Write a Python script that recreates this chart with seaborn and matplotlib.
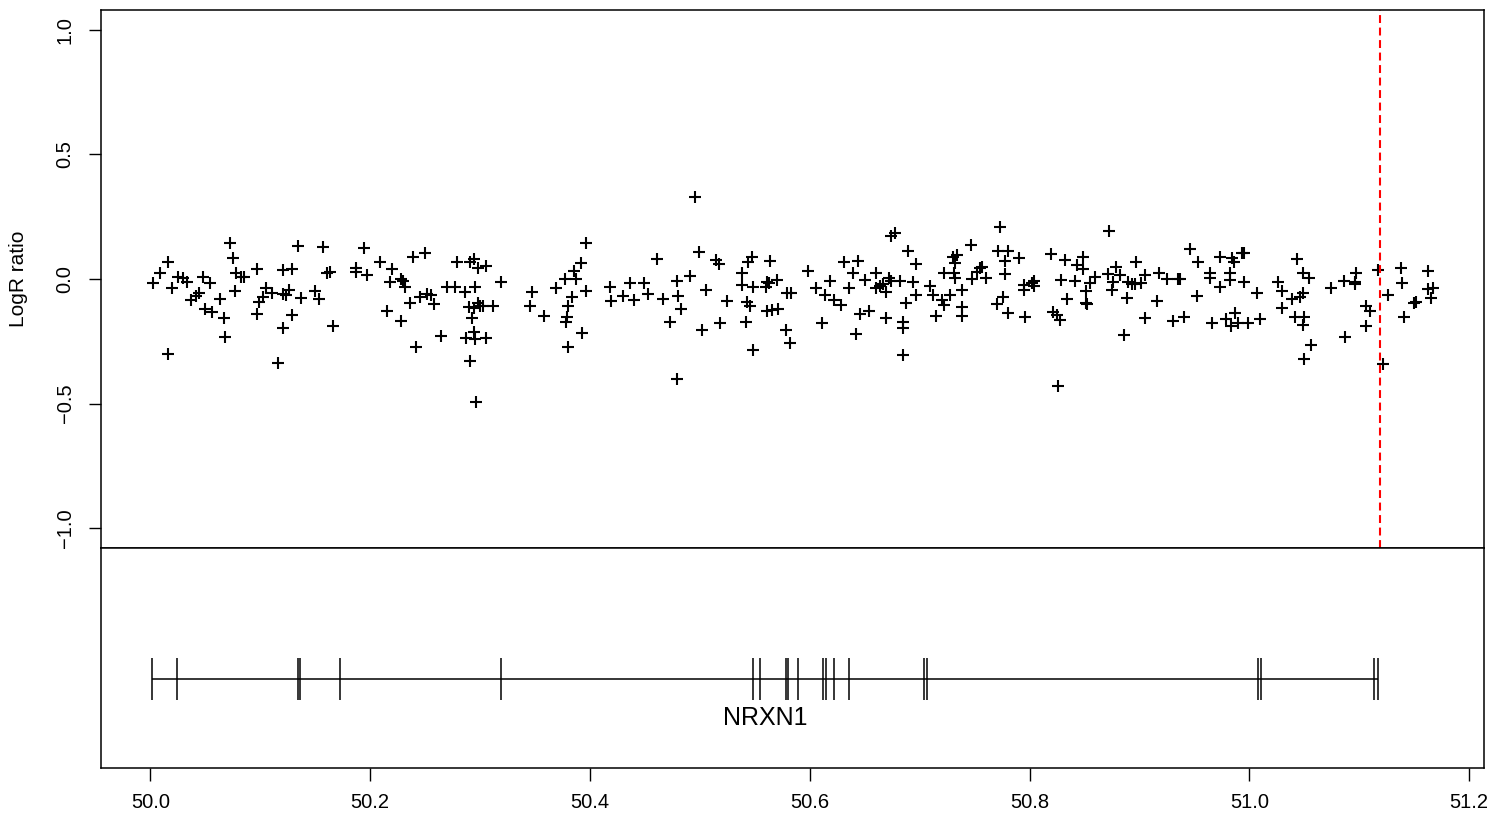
import matplotlib
matplotlib.use('Agg')
import matplotlib.pyplot as plt
import seaborn as sns
import pandas as pd

# posições (Mb) e LogR ratio de cada sonda
posicao = [
    50.002, 50.009, 50.016, 50.016, 50.020, 50.025, 50.030, 50.033, 50.037, 50.041,
    50.044, 50.048, 50.050, 50.054, 50.056, 50.063, 50.067, 50.068, 50.072, 50.075,
    50.078, 50.077, 50.082, 50.085, 50.097, 50.097, 50.099, 50.102, 50.105, 50.111,
    50.116, 50.121, 50.121, 50.121, 50.123, 50.126, 50.129, 50.129, 50.134, 50.137,
    50.150, 50.153, 50.157, 50.161, 50.163, 50.166, 50.187, 50.187, 50.194, 50.197,
    50.209, 50.215, 50.218, 50.220, 50.228, 50.228, 50.230, 50.232, 50.236, 50.239,
    50.242, 50.245, 50.250, 50.252, 50.255, 50.258, 50.264, 50.270, 50.277, 50.279,
    50.286, 50.287, 50.290, 50.291, 50.294, 50.291, 50.293, 50.294, 50.294, 50.295,
    50.295, 50.296, 50.298, 50.298, 50.300, 50.303, 50.305, 50.305, 50.312, 50.319,
    50.345, 50.347, 50.358, 50.369, 50.377, 50.378, 50.379, 50.380, 50.380, 50.384,
    50.385, 50.387, 50.392, 50.393, 50.396, 50.396, 50.418, 50.419, 50.430, 50.436,
    50.440, 50.449, 50.453, 50.461, 50.466, 50.473, 50.479, 50.480, 50.479, 50.483,
    50.491, 50.496, 50.499, 50.502, 50.506, 50.515, 50.517, 50.518, 50.525, 50.538,
    50.538, 50.542, 50.543, 50.546, 50.544, 50.547, 50.548, 50.548, 50.560, 50.561,
    50.563, 50.561, 50.566, 50.571, 50.564, 50.570, 50.578, 50.579, 50.583, 50.582,
    50.598, 50.606, 50.611, 50.614, 50.618, 50.622, 50.628, 50.631, 50.636, 50.639,
    50.642, 50.644, 50.646, 50.650, 50.654, 50.660, 50.660, 50.664, 50.667, 50.669,
    50.669, 50.672, 50.674, 50.674, 50.678, 50.682, 50.685, 50.685, 50.685, 50.688,
    50.689, 50.694, 50.697, 50.697, 50.709, 50.712, 50.715, 50.720, 50.722, 50.722,
    50.728, 50.730, 50.734, 50.732, 50.731, 50.732, 50.739, 50.739, 50.739, 50.747,
    50.748, 50.752, 50.755, 50.757, 50.760, 50.770, 50.771, 50.773, 50.776, 50.778,
    50.778, 50.780, 50.780, 50.790, 50.795, 50.795, 50.796, 50.802, 50.804, 50.804,
    50.820, 50.821, 50.825, 50.828, 50.826, 50.829, 50.832, 50.834, 50.841, 50.843,
    50.849, 50.849, 50.851, 50.851, 50.852, 50.855, 50.860, 50.872, 50.871, 50.875,
    50.876, 50.879, 50.882, 50.886, 50.889, 50.890, 50.893, 50.896, 50.901, 50.897,
    50.905, 50.905, 50.916, 50.918, 50.925, 50.931, 50.935, 50.937, 50.941, 50.946,
    50.952, 50.953, 50.964, 50.964, 50.966, 50.973, 50.973, 50.979, 50.982, 50.982,
    50.983, 50.984, 50.986, 50.987, 50.990, 50.993, 50.995, 50.995, 50.999, 51.007,
    51.010, 51.026, 51.030, 51.030, 51.039, 51.043, 51.042, 51.046, 51.049, 51.054,
    51.049, 51.050, 51.049, 51.056, 51.050, 51.074, 51.087, 51.086, 51.096, 51.097,
    51.096, 51.106, 51.110, 51.106, 51.117, 51.122, 51.126, 51.138, 51.139, 51.141,
    51.150, 51.152, 51.163, 51.163, 51.167, 51.165,
]
logr = [
    -0.017, 0.025, 0.070, -0.300, -0.036, 0.007, 0.003, -0.013, -0.084, -0.068,
    -0.055, 0.009, -0.122, -0.015, -0.131, -0.080, -0.155, -0.232, 0.146, 0.086,
    0.023, -0.047, 0.009, 0.007, 0.040, -0.141, -0.091, -0.071, -0.037, -0.057,
    -0.339, 0.036, -0.198, -0.060, -0.064, -0.044, 0.040, -0.145, 0.133, -0.078,
    -0.047, -0.080, 0.130, 0.023, 0.027, -0.190, 0.043, 0.027, 0.126, 0.016,
    0.070, -0.127, -0.011, 0.040, -0.001, -0.169, -0.008, -0.031, -0.095, 0.090,
    -0.272, -0.074, 0.103, -0.060, -0.064, -0.100, -0.228, -0.031, -0.031, 0.070,
    -0.051, -0.238, -0.111, 0.070, 0.079, -0.328, -0.158, -0.212, -0.118, -0.242,
    -0.031, -0.493, 0.045, -0.095, -0.108, -0.108, 0.053, -0.235, -0.108, -0.011,
    -0.107, -0.051, -0.147, -0.037, -0.001, -0.171, -0.151, -0.107, -0.272, -0.071,
    0.033, -0.001, 0.063, -0.218, 0.143, -0.047, -0.033, -0.087, -0.068, -0.017,
    -0.084, -0.015, -0.060, 0.080, -0.082, -0.171, -0.007, -0.068, -0.403, -0.120,
    0.012, 0.331, 0.110, -0.205, -0.044, 0.076, 0.060, -0.175, -0.087, 0.023,
    -0.024, -0.171, -0.091, -0.107, 0.070, 0.087, -0.285, -0.031, -0.031, -0.011,
    -0.015, -0.127, -0.124, -0.120, 0.072, -0.004, -0.205, -0.057, -0.055, -0.258,
    0.032, -0.037, -0.175, -0.064, -0.007, -0.084, -0.104, 0.070, -0.037, 0.025,
    -0.221, 0.072, -0.141, -0.004, -0.127, 0.025, -0.035, -0.027, -0.020, -0.158,
    -0.051, 0.003, -0.007, 0.173, 0.186, -0.007, -0.171, -0.198, -0.305, -0.095,
    0.112, -0.011, 0.059, -0.064, -0.028, -0.064, -0.149, -0.084, -0.104, 0.025,
    -0.064, 0.090, 0.096, 0.063, 0.023, 0.003, -0.044, -0.114, -0.149, 0.137,
    -0.001, 0.029, 0.043, 0.047, 0.003, -0.100, 0.112, 0.210, -0.074, 0.020,
    0.073, 0.112, -0.135, 0.083, -0.024, -0.044, -0.154, -0.015, -0.007, -0.028,
    0.099, -0.131, -0.145, -0.165, -0.428, -0.004, 0.076, -0.082, -0.007, 0.056,
    0.090, 0.039, -0.047, -0.098, -0.100, -0.015, 0.009, 0.194, 0.019, -0.044,
    -0.011, 0.050, 0.016, -0.225, -0.075, -0.011, -0.020, -0.020, -0.015, 0.070,
    0.016, -0.158, -0.087, 0.023, 0.000, -0.167, 0.000, 0.000, -0.151, 0.120,
    -0.068, 0.070, 0.025, 0.003, -0.175, -0.033, 0.090, -0.162, 0.025, -0.004,
    -0.190, 0.083, 0.070, -0.135, -0.178, 0.103, 0.103, -0.011, -0.178, -0.057,
    -0.162, -0.011, -0.047, -0.115, -0.082, 0.079, -0.154, -0.074, 0.025, 0.003,
    -0.057, -0.154, -0.185, -0.265, -0.321, -0.037, -0.234, -0.008, -0.011, 0.025,
    -0.020, -0.108, -0.127, -0.190, 0.036, -0.341, -0.064, 0.045, -0.017, -0.154,
    -0.098, -0.091, 0.033, -0.040, -0.037, -0.075,
]

# éxons do gene NRXN1 (Mb)
exons = [50.0012, 50.0244, 50.1346, 50.1360, 50.1726, 50.3188, 50.5487, 50.5548,
         50.5786, 50.5804, 50.5894, 50.6125, 50.6145, 50.6219, 50.6361, 50.7040,
         50.7064, 51.0077, 51.0109, 51.1134, 51.1174]
gene_nome = 'NRXN1'
linha_vermelha = 51.119

x_ticks = [50.0, 50.2, 50.4, 50.6, 50.8, 51.0, 51.2]
y_ticks = [-1.0, -0.5, 0.0, 0.5, 1.0]

df = pd.DataFrame({'pos': posicao, 'logr': logr})

sns.set_theme(style='white')
plt.rcParams['font.family'] = ['Liberation Sans', 'DejaVu Sans']
plt.rcParams['text.color'] = 'black'
plt.rcParams['axes.labelcolor'] = 'black'
plt.rcParams['xtick.color'] = 'black'
plt.rcParams['ytick.color'] = 'black'

fig = plt.figure(figsize=(14.98, 8.21), dpi=100)
W, H = 1498, 821
x0, x1 = 101, 1484
ax = fig.add_axes([x0 / W, 1 - 548 / H, (x1 - x0) / W, (548 - 10) / H])
ax2 = fig.add_axes([x0 / W, 1 - 768 / H, (x1 - x0) / W, (768 - 548) / H])

xlim = (49.955, 51.2136)

# painel de cima: LogR
sns.scatterplot(data=df, x='pos', y='logr', marker='+', color='black',
                s=70, linewidth=1.5, ax=ax, legend=False)
ax.axvline(linha_vermelha, color='red', linewidth=1.5, linestyle=(0, (3.8, 2.2)))
ax.set_xlim(xlim)
ax.set_ylim(-1.08, 1.08)
ax.set_xticks([])
ax.set_yticks(y_ticks)
ax.set_yticklabels([f'{v:.1f}'.replace('-', '\u2212') for v in y_ticks],
                   rotation=90, va='center', fontsize=14.5)
ax.tick_params(axis='y', direction='out', length=9, width=1, left=True, pad=10)
ax.set_xlabel('')
ax.set_ylabel('LogR ratio', fontsize=15, labelpad=20)
for sp in ax.spines.values():
    sp.set_color('black')
    sp.set_linewidth(1.1)

# painel de baixo: estrutura do gene
ax2.set_xlim(xlim)
ax2.set_ylim(0, 1)
ax2.hlines(0.405, min(exons), max(exons), color='black', linewidth=1.1)
ax2.vlines(exons, 0.31, 0.50, color='black', linewidth=1.1)
ax2.text((min(exons) + max(exons)) / 2, 0.227, gene_nome,
         ha='center', va='center', fontsize=18)
ax2.set_yticks([])
ax2.set_xticks(x_ticks)
ax2.set_xticklabels([f'{v:.1f}' for v in x_ticks], fontsize=14.5)
ax2.tick_params(axis='x', direction='out', length=9, width=1, bottom=True, pad=9)
for sp in ax2.spines.values():
    sp.set_color('black')
    sp.set_linewidth(1.1)

plt.savefig('out.png', dpi=100)
plt.close()
